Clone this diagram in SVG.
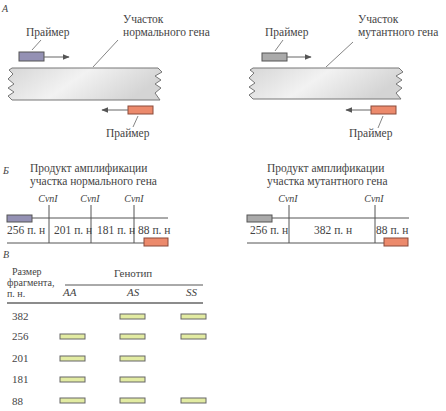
<svg xmlns="http://www.w3.org/2000/svg" width="446" height="411" viewBox="0 0 446 411" font-family="'Liberation Serif', 'DejaVu Serif', serif">
<style>
text{font-family:"Liberation Serif","DejaVu Serif",serif;fill:#444;font-size:11.5px}
.it{font-style:italic}
.lbl{font-size:11px}
.hd{font-size:10px}
.cvn{font-size:10px;font-style:italic}
.ln{stroke:#555;stroke-width:1;fill:none}
.lead{stroke:#666;stroke-width:0.8;fill:none}
.arr{stroke:#666;stroke-width:1;fill:none;marker-end:url(#ah)}
.pb{fill:#9491b4;stroke:#555;stroke-width:1}
.pg{fill:#aaa;stroke:#555;stroke-width:1}
.pr{fill:#ec8a6c;stroke:#8a4a3a;stroke-width:1}
.gene{fill:url(#gg);stroke:#777;stroke-width:1}
.band{fill:#e2eba2;stroke:#666;stroke-width:1}
</style>
<defs>
<marker id="ah" viewBox="0 0 10 10" refX="9" refY="5" markerWidth="7" markerHeight="7" orient="auto" markerUnits="userSpaceOnUse">
<path d="M0,1 L10,5 L0,9 Z" fill="#555"/>
</marker>
<linearGradient id="gg" x1="0" y1="0" x2="1" y2="0.3">
<stop offset="0" stop-color="#d6d6d6"/>
<stop offset="0.5" stop-color="#f2f2f2"/>
<stop offset="1" stop-color="#d4d4d4"/>
</linearGradient>
</defs>

<g id="panel-labels">
<text x="2" y="12" class="it" style="font-size:10px">А</text>
<text x="3" y="174" class="it" style="font-size:10px">Б</text>
<text x="3" y="258" class="it" style="font-size:10px">В</text>
</g>

<!-- Panel A left -->
<g id="gene-normal">
<path class="gene" d="M12,68 L158,68 L162,72 L155,76 L161,80 L155,84 L161,88 L155,93 L160,100 L12,100 L8,96 L14,92 L8,88 L14,84 L8,79 L13,74 L9,70 Z"/>
<text x="123" y="23">Участок</text>
<text x="123" y="36">нормального гена</text>
</g>
<g id="primer-a1">
<rect class="pb" x="19" y="52" width="25" height="9"/>
<text x="26" y="36">Праймер</text>
</g>
<g id="primer-a2">
<rect class="pr" x="128" y="106" width="25" height="8"/>
<text x="106" y="137">Праймер</text>
</g>

<!-- Panel A right -->
<g id="gene-mutant">
<path class="gene" d="M253,68 L399,68 L403,72 L396,76 L402,80 L396,84 L402,88 L396,93 L401,99 L253,99 L249,95 L255,91 L249,87 L255,83 L249,78 L254,73 L250,70 Z"/>
<text x="358" y="23">Участок</text>
<text x="358" y="36">мутантного гена</text>
</g>
<g id="primer-a3">
<rect class="pg" x="262" y="53" width="25" height="8"/>
<text x="265" y="36">Праймер</text>
</g>
<g id="primer-a4">
<rect class="pr" x="371" y="106" width="25" height="8"/>
<text x="349" y="137">Праймер</text>
</g>

<g id="connectors">
<line class="lead" x1="32" y1="50" x2="41" y2="40"/>
<line class="lead" x1="93" y1="67" x2="118" y2="40"/>
<line class="lead" x1="133" y1="127" x2="138" y2="116"/>
<line class="lead" x1="275" y1="51" x2="283" y2="40"/>
<line class="lead" x1="326" y1="67" x2="353" y2="42"/>
<line class="lead" x1="378" y1="128" x2="383" y2="116"/>
<line class="arr" x1="44" y1="57" x2="69" y2="57"/>
<line class="arr" x1="128" y1="110" x2="102" y2="110"/>
<line class="arr" x1="287" y1="57" x2="311" y2="57"/>
<line class="arr" x1="371" y1="110" x2="346" y2="110"/>
</g>

<!-- Panel B left -->
<g id="product-normal">
<text x="30" y="172">Продукт амплификации</text>
<text x="30" y="185">участка нормального гена</text>
<line class="ln" x1="32" y1="218" x2="168" y2="218"/>
<line class="ln" x1="7" y1="243" x2="144" y2="243"/>
<line class="ln" x1="49" y1="205" x2="49" y2="243"/>
<line class="ln" x1="91" y1="205" x2="91" y2="243"/>
<line class="ln" x1="134" y1="205" x2="134" y2="243"/>
<text class="cvn" x="48" y="202" text-anchor="middle">CvnI</text>
<text class="cvn" x="90" y="202" text-anchor="middle">CvnI</text>
<text class="cvn" x="134" y="202" text-anchor="middle">CvnI</text>
<rect class="pb" x="7" y="215" width="25" height="7"/>
<rect class="pr" x="144" y="238" width="24" height="8"/>
<text x="7" y="234">256 п. н</text>
<text x="54" y="234">201 п. н</text>
<text x="97" y="234">181 п. н</text>
<text x="138" y="234">88 п. н</text>
</g>

<!-- Panel B right -->
<g id="product-mutant">
<text x="267" y="172">Продукт амплификации</text>
<text x="267" y="185">участка мутантного гена</text>
<line class="ln" x1="272" y1="218" x2="409" y2="218"/>
<line class="ln" x1="247" y1="243" x2="384" y2="243"/>
<line class="ln" x1="289" y1="205" x2="289" y2="243"/>
<line class="ln" x1="375" y1="205" x2="375" y2="243"/>
<text class="cvn" x="288" y="202" text-anchor="middle">CvnI</text>
<text class="cvn" x="374" y="202" text-anchor="middle">CvnI</text>
<rect class="pg" x="247" y="215" width="25" height="7"/>
<rect class="pr" x="384" y="238" width="24" height="8"/>
<text x="250" y="234">256 п. н</text>
<text x="314" y="234">382 п. н</text>
<text x="376" y="234">88 п. н</text>
</g>

<!-- Panel V -->
<g id="genotype-table">
<text class="hd" x="12" y="275">Размер</text>
<text class="hd" x="7" y="286">фрагмента,</text>
<text class="hd" x="7" y="297">п. н.</text>
<text class="lbl" x="114" y="277">Генотип</text>
<line class="ln" x1="65" y1="285" x2="203" y2="285"/>
<text class="lbl it" x="63" y="296">AA</text>
<text class="lbl it" x="127" y="296">AS</text>
<text class="lbl it" x="186" y="296">SS</text>
<line x1="7" y1="303" x2="203" y2="303" stroke="#666" stroke-width="1.6"/>
<text class="lbl" x="12" y="320">382</text>
<text class="lbl" x="12" y="340">256</text>
<text class="lbl" x="12" y="362">201</text>
<text class="lbl" x="12" y="383">181</text>
<text class="lbl" x="12" y="405">88</text>
<rect class="band" x="120" y="314" width="25" height="5"/>
<rect class="band" x="181" y="314" width="25" height="5"/>
<rect class="band" x="60" y="334" width="25" height="5"/>
<rect class="band" x="120" y="334" width="25" height="5"/>
<rect class="band" x="181" y="334" width="25" height="5"/>
<rect class="band" x="60" y="356" width="25" height="5"/>
<rect class="band" x="120" y="356" width="25" height="5"/>
<rect class="band" x="60" y="377" width="25" height="5"/>
<rect class="band" x="120" y="377" width="25" height="5"/>
<rect class="band" x="60" y="398" width="25" height="5"/>
<rect class="band" x="120" y="398" width="25" height="5"/>
<rect class="band" x="181" y="398" width="25" height="5"/>
</g>
</svg>
